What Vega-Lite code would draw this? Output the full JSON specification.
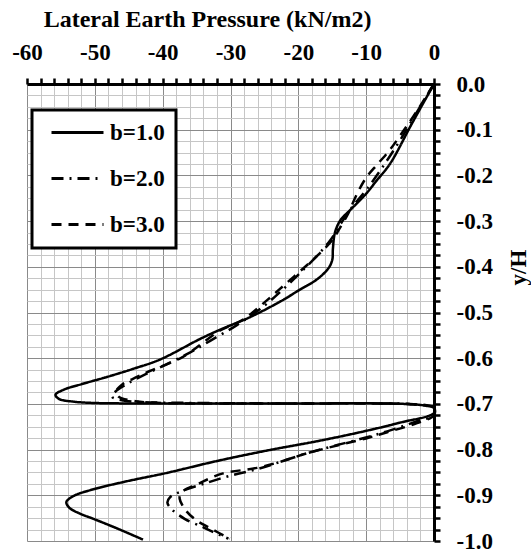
{
  "$schema": "https://vega.github.io/schema/vega-lite/v6.json",
  "width": 407,
  "height": 457,
  "autosize": "none",
  "padding": {"left": 27, "top": 84, "right": 97, "bottom": 13},
  "background": "white",
  "config": {
    "font": "'Liberation Serif', 'Times New Roman', serif",
    "view": {"stroke": null},
    "legend": {"strokeWidth": 3}
  },
  "data": {
    "values": [
      {"b": "b=1.0", "p": 0, "y": 0},
      {"b": "b=1.0", "p": -3.2, "y": -0.085},
      {"b": "b=1.0", "p": -6.5, "y": -0.175},
      {"b": "b=1.0", "p": -8.5, "y": -0.212},
      {"b": "b=1.0", "p": -10, "y": -0.24},
      {"b": "b=1.0", "p": -12.3, "y": -0.275},
      {"b": "b=1.0", "p": -13.8, "y": -0.298},
      {"b": "b=1.0", "p": -14.6, "y": -0.325},
      {"b": "b=1.0", "p": -14.9, "y": -0.36},
      {"b": "b=1.0", "p": -15, "y": -0.385},
      {"b": "b=1.0", "p": -15.6, "y": -0.404},
      {"b": "b=1.0", "p": -17.3, "y": -0.428},
      {"b": "b=1.0", "p": -20, "y": -0.452},
      {"b": "b=1.0", "p": -22.3, "y": -0.473},
      {"b": "b=1.0", "p": -27.1, "y": -0.51},
      {"b": "b=1.0", "p": -31.6, "y": -0.538},
      {"b": "b=1.0", "p": -34.5, "y": -0.558},
      {"b": "b=1.0", "p": -40.4, "y": -0.603},
      {"b": "b=1.0", "p": -44.5, "y": -0.624},
      {"b": "b=1.0", "p": -48.2, "y": -0.641},
      {"b": "b=1.0", "p": -52, "y": -0.657},
      {"b": "b=1.0", "p": -54.6, "y": -0.669},
      {"b": "b=1.0", "p": -55.8, "y": -0.68},
      {"b": "b=1.0", "p": -55.3, "y": -0.689},
      {"b": "b=1.0", "p": -53.2, "y": -0.695},
      {"b": "b=1.0", "p": -50, "y": -0.698},
      {"b": "b=1.0", "p": -40, "y": -0.699},
      {"b": "b=1.0", "p": -20, "y": -0.699},
      {"b": "b=1.0", "p": -8, "y": -0.699},
      {"b": "b=1.0", "p": -3, "y": -0.701},
      {"b": "b=1.0", "p": -1.2, "y": -0.704},
      {"b": "b=1.0", "p": 0, "y": -0.709},
      {"b": "b=1.0", "p": 0, "y": -0.72},
      {"b": "b=1.0", "p": -5, "y": -0.741},
      {"b": "b=1.0", "p": -10.9, "y": -0.762},
      {"b": "b=1.0", "p": -17, "y": -0.781},
      {"b": "b=1.0", "p": -24.6, "y": -0.802},
      {"b": "b=1.0", "p": -32, "y": -0.825},
      {"b": "b=1.0", "p": -39.4, "y": -0.851},
      {"b": "b=1.0", "p": -45.5, "y": -0.87},
      {"b": "b=1.0", "p": -50.5, "y": -0.888},
      {"b": "b=1.0", "p": -53.2, "y": -0.902},
      {"b": "b=1.0", "p": -54.2, "y": -0.915},
      {"b": "b=1.0", "p": -53.7, "y": -0.928},
      {"b": "b=1.0", "p": -52.2, "y": -0.94},
      {"b": "b=1.0", "p": -50.3, "y": -0.951},
      {"b": "b=1.0", "p": -46.8, "y": -0.972},
      {"b": "b=1.0", "p": -42.9, "y": -0.997},

      {"b": "b=2.0", "p": 0, "y": 0},
      {"b": "b=2.0", "p": -2.5, "y": -0.061},
      {"b": "b=2.0", "p": -5, "y": -0.123},
      {"b": "b=2.0", "p": -7.5, "y": -0.18},
      {"b": "b=2.0", "p": -10, "y": -0.232},
      {"b": "b=2.0", "p": -12, "y": -0.268},
      {"b": "b=2.0", "p": -13.5, "y": -0.3},
      {"b": "b=2.0", "p": -15.2, "y": -0.34},
      {"b": "b=2.0", "p": -17, "y": -0.372},
      {"b": "b=2.0", "p": -19.5, "y": -0.41},
      {"b": "b=2.0", "p": -22.3, "y": -0.45},
      {"b": "b=2.0", "p": -25, "y": -0.485},
      {"b": "b=2.0", "p": -29, "y": -0.527},
      {"b": "b=2.0", "p": -33, "y": -0.562},
      {"b": "b=2.0", "p": -36, "y": -0.588},
      {"b": "b=2.0", "p": -39.4, "y": -0.613},
      {"b": "b=2.0", "p": -42.5, "y": -0.635},
      {"b": "b=2.0", "p": -45, "y": -0.654},
      {"b": "b=2.0", "p": -46.8, "y": -0.671},
      {"b": "b=2.0", "p": -47.5, "y": -0.684},
      {"b": "b=2.0", "p": -46, "y": -0.692},
      {"b": "b=2.0", "p": -43, "y": -0.696},
      {"b": "b=2.0", "p": -35, "y": -0.698},
      {"b": "b=2.0", "p": -20, "y": -0.699},
      {"b": "b=2.0", "p": -8, "y": -0.699},
      {"b": "b=2.0", "p": -3, "y": -0.701},
      {"b": "b=2.0", "p": 0, "y": -0.708},
      {"b": "b=2.0", "p": 0, "y": -0.725},
      {"b": "b=2.0", "p": -2.5, "y": -0.738},
      {"b": "b=2.0", "p": -6.9, "y": -0.76},
      {"b": "b=2.0", "p": -9.9, "y": -0.773},
      {"b": "b=2.0", "p": -14, "y": -0.789},
      {"b": "b=2.0", "p": -18.7, "y": -0.808},
      {"b": "b=2.0", "p": -22.5, "y": -0.826},
      {"b": "b=2.0", "p": -26.1, "y": -0.843},
      {"b": "b=2.0", "p": -30, "y": -0.857},
      {"b": "b=2.0", "p": -34, "y": -0.875},
      {"b": "b=2.0", "p": -37, "y": -0.89},
      {"b": "b=2.0", "p": -38.9, "y": -0.904},
      {"b": "b=2.0", "p": -39.3, "y": -0.916},
      {"b": "b=2.0", "p": -38.7, "y": -0.93},
      {"b": "b=2.0", "p": -36.7, "y": -0.952},
      {"b": "b=2.0", "p": -34, "y": -0.97},
      {"b": "b=2.0", "p": -32.6, "y": -0.98},
      {"b": "b=2.0", "p": -30.3, "y": -0.995},

      {"b": "b=3.0", "p": 0, "y": 0},
      {"b": "b=3.0", "p": -3, "y": -0.07},
      {"b": "b=3.0", "p": -5, "y": -0.113},
      {"b": "b=3.0", "p": -6.5, "y": -0.144},
      {"b": "b=3.0", "p": -8.3, "y": -0.175},
      {"b": "b=3.0", "p": -10, "y": -0.205},
      {"b": "b=3.0", "p": -11.5, "y": -0.245},
      {"b": "b=3.0", "p": -12.7, "y": -0.285},
      {"b": "b=3.0", "p": -14, "y": -0.318},
      {"b": "b=3.0", "p": -14.9, "y": -0.34},
      {"b": "b=3.0", "p": -16.8, "y": -0.37},
      {"b": "b=3.0", "p": -18.7, "y": -0.396},
      {"b": "b=3.0", "p": -21.7, "y": -0.435},
      {"b": "b=3.0", "p": -24.6, "y": -0.473},
      {"b": "b=3.0", "p": -28.2, "y": -0.516},
      {"b": "b=3.0", "p": -31.6, "y": -0.54},
      {"b": "b=3.0", "p": -37, "y": -0.597},
      {"b": "b=3.0", "p": -41.9, "y": -0.628},
      {"b": "b=3.0", "p": -43.8, "y": -0.641},
      {"b": "b=3.0", "p": -46, "y": -0.658},
      {"b": "b=3.0", "p": -46.8, "y": -0.671},
      {"b": "b=3.0", "p": -46.5, "y": -0.684},
      {"b": "b=3.0", "p": -44, "y": -0.694},
      {"b": "b=3.0", "p": -40, "y": -0.698},
      {"b": "b=3.0", "p": -20, "y": -0.699},
      {"b": "b=3.0", "p": -8, "y": -0.699},
      {"b": "b=3.0", "p": -3, "y": -0.701},
      {"b": "b=3.0", "p": 0, "y": -0.708},
      {"b": "b=3.0", "p": 0, "y": -0.725},
      {"b": "b=3.0", "p": -2.5, "y": -0.742},
      {"b": "b=3.0", "p": -6.9, "y": -0.762},
      {"b": "b=3.0", "p": -9.9, "y": -0.775},
      {"b": "b=3.0", "p": -14, "y": -0.79},
      {"b": "b=3.0", "p": -18.7, "y": -0.808},
      {"b": "b=3.0", "p": -22.5, "y": -0.826},
      {"b": "b=3.0", "p": -26.1, "y": -0.84},
      {"b": "b=3.0", "p": -31.1, "y": -0.852},
      {"b": "b=3.0", "p": -33.5, "y": -0.866},
      {"b": "b=3.0", "p": -35, "y": -0.877},
      {"b": "b=3.0", "p": -36.5, "y": -0.886},
      {"b": "b=3.0", "p": -37.3, "y": -0.895},
      {"b": "b=3.0", "p": -37.5, "y": -0.907},
      {"b": "b=3.0", "p": -36.6, "y": -0.933},
      {"b": "b=3.0", "p": -35, "y": -0.955},
      {"b": "b=3.0", "p": -33, "y": -0.972},
      {"b": "b=3.0", "p": -30.1, "y": -0.995}
    ]
  },
  "mark": {"type": "line", "color": "black", "strokeWidth": 2.5, "clip": false, "interpolate": "catmull-rom"},
  "encoding": {
    "x": {
      "field": "p",
      "type": "quantitative",
      "scale": {"domain": [-60, 0], "nice": false, "zero": false},
      "axis": {
        "orient": "top",
        "title": "Lateral Earth Pressure (kN/m2)",
        "titleFont": "'Liberation Serif', 'Times New Roman', serif",
        "titleFontSize": 24,
        "titleFontWeight": "bold",
        "titleColor": "black",
        "titleX": 180,
        "titlePadding": 10,
        "values": [-60,-58,-56,-54,-52,-50,-48,-46,-44,-42,-40,-38,-36,-34,-32,-30,-28,-26,-24,-22,-20,-18,-16,-14,-12,-10,-8,-6,-4,-2,0],
        "labelExpr": "datum.value % 10 == 0 ? '' + datum.value : ''",
        "labelFont": "'Liberation Serif', 'Times New Roman', serif",
        "labelFontSize": 23,
        "labelFontWeight": "bold",
        "labelColor": "black",
        "labelPadding": 14,
        "labelFlush": false,
        "labelOverlap": false,
        "domainColor": "black",
        "domainWidth": 3,
        "tickColor": "black",
        "tickWidth": 2.5,
        "tickSize": 6,
        "grid": true,
        "gridColor": {"condition": {"test": "datum.value % 10 == 0", "value": "#8a8a8a"}, "value": "#c6c6c6"},
        "gridWidth": 1,
        "gridOpacity": 1,
        "encode": {
          "ticks": {"update": {"y": [{"test": "datum.value % 10 == 0", "value": 6}, {"value": 0}]}}
        }
      }
    },
    "y": {
      "field": "y",
      "type": "quantitative",
      "scale": {"domain": [-1, 0], "nice": false, "zero": false},
      "axis": {
        "orient": "right",
        "title": "y/H",
        "titleFont": "'Liberation Serif', 'Times New Roman', serif",
        "titleFontSize": 23,
        "titleFontWeight": "bold",
        "titleColor": "black",
        "titleAngle": 270,
        "titleX": 84,
        "titleY": 183,
        "titleAlign": "center",
        "titleBaseline": "middle",
        "values": [0,-0.025,-0.05,-0.075,-0.1,-0.125,-0.15,-0.175,-0.2,-0.225,-0.25,-0.275,-0.3,-0.325,-0.35,-0.375,-0.4,-0.425,-0.45,-0.475,-0.5,-0.525,-0.55,-0.575,-0.6,-0.625,-0.65,-0.675,-0.7,-0.725,-0.75,-0.775,-0.8,-0.825,-0.85,-0.875,-0.9,-0.925,-0.95,-0.975,-1],
        "labelExpr": "abs(round(datum.value * 40)) % 4 == 0 ? replace(format(datum.value, '.1f'), '−', '-') : ''",
        "labelFont": "'Liberation Serif', 'Times New Roman', serif",
        "labelFontSize": 23,
        "labelFontWeight": "bold",
        "labelColor": "black",
        "labelPadding": 16,
        "labelFlush": false,
        "labelOverlap": false,
        "domainColor": "black",
        "domainWidth": 3,
        "tickColor": "black",
        "tickWidth": 2.5,
        "tickSize": 6,
        "grid": true,
        "gridColor": {"condition": {"test": "abs(round(datum.value * 40)) % 4 == 0", "value": "#8a8a8a"}, "value": "#c6c6c6"},
        "gridWidth": 1,
        "gridOpacity": 1,
        "encode": {
          "ticks": {"update": {"x": [{"test": "abs(round(datum.value * 40)) % 4 == 0", "value": -6}, {"value": 0}]}}
        }
      }
    },
    "strokeDash": {
      "field": "b",
      "type": "nominal",
      "scale": {"domain": ["b=1.0", "b=2.0", "b=3.0"], "range": [[1, 0], [12, 6, 2, 6], [10, 7]]},
      "legend": {
        "orient": "none",
        "legendX": 5,
        "legendY": 26,
        "title": null,
        "fillColor": "white",
        "strokeColor": "black",
        "padding": 11,
        "symbolType": "M-5.2,0H5.2",
        "symbolSize": 100,
        "symbolStrokeWidth": 3,
        "symbolStrokeColor": "black",
        "symbolFillColor": "transparent",
        "symbolOffset": 23,
        "labelFont": "'Liberation Serif', 'Times New Roman', serif",
        "labelFontSize": 23,
        "labelFontWeight": "bold",
        "labelColor": "black",
        "labelOffset": 21,
        "rowPadding": 22
      }
    },
    "order": {"value": null}
  }
}
